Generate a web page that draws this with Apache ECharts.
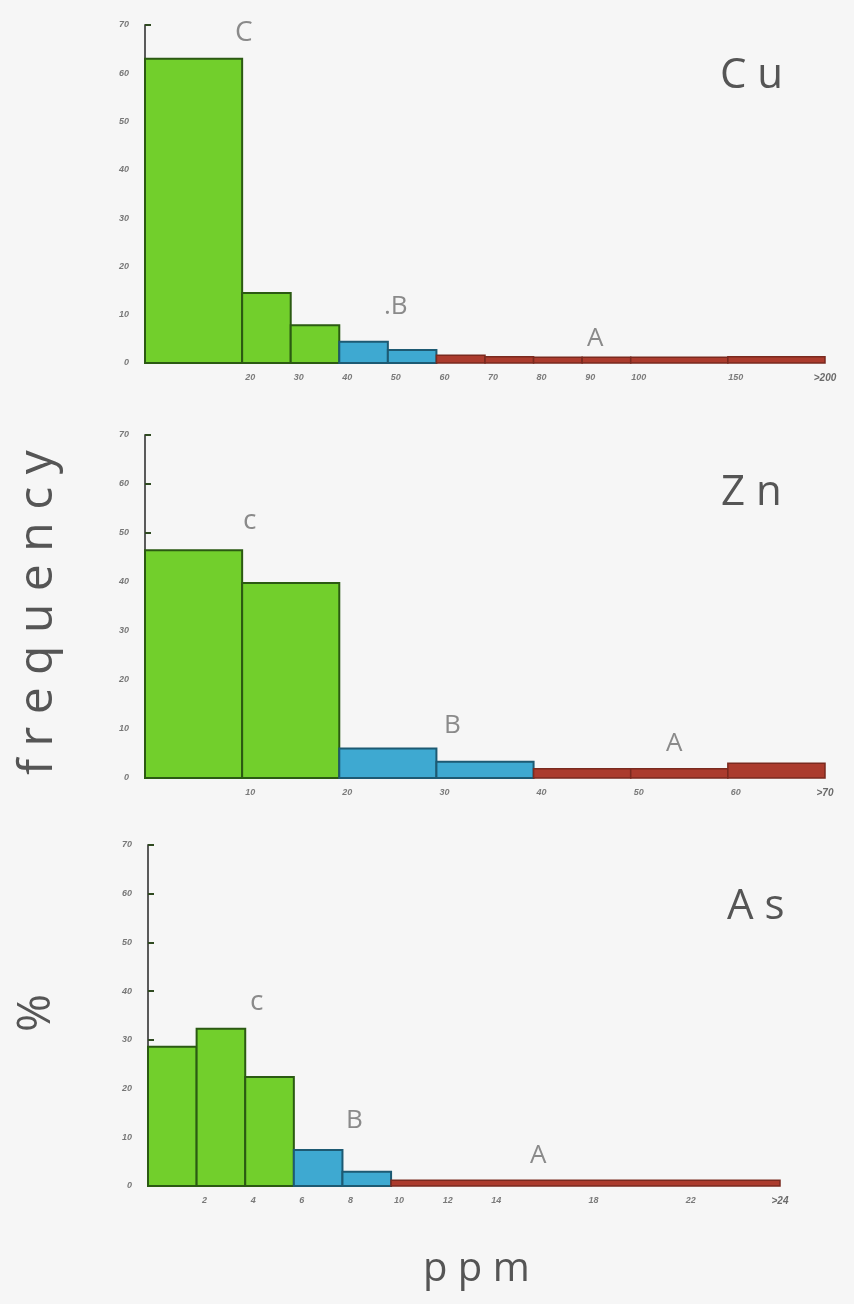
<!DOCTYPE html>
<html>
<head>
<meta charset="utf-8">
<script src="https://cdn.jsdelivr.net/npm/echarts@6/dist/echarts.min.js"></script>
<style>
html,body{margin:0;padding:0;background:#f6f6f6;}
#chart{width:854px;height:1304px;}
</style>
</head>
<body>
<div id="chart"></div>
<script>
// ---------- DATA ----------
// Cu (ppm class edges, frequency %)
const cuEdges  = [0, 20, 30, 40, 50, 60, 70, 80, 90, 100, 150, 200];
const cuValues = [63, 14.5, 7.8, 4.4, 2.7, 1.6, 1.3, 1.2, 1.2, 1.2, 1.3];
const cuGroups = ['C','C','C','B','B','A','A','A','A','A','A'];
const cuTicks  = [20, 30, 40, 50, 60, 70, 80, 90, 100, 150, 200];
const cuTickLabels = ['20','30','40','50','60','70','80','90','100','150','>200'];

// Zn
const znEdges  = [0, 10, 20, 30, 40, 50, 60, 70];
const znValues = [46.5, 39.8, 6.0, 3.3, 1.9, 1.9, 3.0];
const znGroups = ['C','C','B','B','A','A','A'];
const znTicks  = [10, 20, 30, 40, 50, 60, 70];
const znTickLabels = ['10','20','30','40','50','60','>70'];

// As
const asEdges  = [0, 2, 4, 6, 8, 10, 26];
const asValues = [28.6, 32.3, 22.4, 7.4, 2.9, 1.2];
const asGroups = ['C','C','C','B','B','A'];
const asTicks  = [2, 4, 6, 8, 10, 12, 14, 18, 22, 26];
const asTickLabels = ['2','4','6','8','10','12','14','18','22','>24'];

const yTicks = [0, 10, 20, 30, 40, 50, 60, 70];

// ---------- AXIS TRANSFORMS (ppm -> class slots) ----------
function cuScale(p){ return p <= 100 ? p / 10 : 10 + (p - 100) / 25; }
function znScale(p){ return p / 10; }
function asScale(p){ return p / 2; }

const fills   = {C:'#72cf2c', B:'#3ea9d1', A:'#ab3b2d'};
const strokes = {C:'#2b5a12', B:'#1d5a73', A:'#7a2a1f'};

function buildData(edges, values, groups, scale){
  return values.map((v,i)=>[scale(edges[i]), scale(edges[i+1]), v, groups[i]]);
}

function renderBar(params, api, groups){
  const x0 = api.value(0), x1 = api.value(1), v = api.value(2);
  const grp = groups[params.dataIndex];
  const p0 = api.coord([x0, 0]);
  const p1 = api.coord([x1, v]);
  return {
    type:'rect',
    shape:{x:p0[0], y:p1[1], width:p1[0]-p0[0], height:p0[1]-p1[1]},
    style:{fill:fills[grp], stroke:strokes[grp], lineWidth: grp === 'A' ? 1.5 : 2}
  };
}

function makeSeries(idx, edges, values, groups, scale){
  return {
    type:'custom',
    xAxisIndex:idx, yAxisIndex:idx,
    renderItem:function(params, api){ return renderBar(params, api, groups); },
    encode:{x:[0,1], y:2},
    data:buildData(edges, values, groups, scale)
  };
}

function xAxisFor(idx, ticks, labels, scale, maxSlot){
  const map = {};
  ticks.forEach((t,i)=>{ map[scale(t).toFixed(3)] = labels[i]; });
  return {
    type:'value', gridIndex:idx, min:0, max:maxSlot, interval:1,
    axisLine:{show:false}, axisTick:{show:false}, splitLine:{show:false},
    axisLabel:{
      show:true, margin:10,
      formatter:function(val){
        const l = map[Number(val).toFixed(3)];
        if(l === undefined) return '';
        return l.charAt(0) === '>' ? '{e|' + l + '}' : '{n|' + l + '}';
      },
      rich:{
        n:{fontSize:9, fontStyle:'italic', fontWeight:'bold', color:'#7a7a7a', padding:[0,0,0,16]},
        e:{fontSize:10, fontStyle:'italic', fontWeight:'bold', color:'#6a6a6a'}
      }
    }
  };
}

function yAxisFor(idx){
  return {
    type:'value', gridIndex:idx, min:0, max:70, interval:10,
    axisLine:{show:true, lineStyle:{color:'#5a5a5a', width:2}},
    axisTick:{show:true, inside:true, length:6, lineStyle:{color:'#2f4a20', width:2}},
    splitLine:{show:false},
    axisLabel:{
      margin:16, fontSize:9, fontStyle:'italic', fontWeight:'bold', color:'#777',
      formatter:function(v){ return yTicks.indexOf(v) >= 0 ? String(v) : ''; }
    }
  };
}

const chart = echarts.init(document.getElementById('chart'), null, {renderer:'canvas'});

const FONT = 'Open Sans, DejaVu Sans, sans-serif';
const txt = (x, y, s, size, color) => ({
  type:'text', left:x, top:y,
  style:{text:s, fontSize:size, fill:color, fontFamily:FONT}
});

const option = {
  backgroundColor:'#f6f6f6',
  animation:false,
  grid:[
    {left:145, right:29, top:25, height:338},
    {left:145, right:29, top:435, height:343},
    {left:148, right:74, top:845, height:341}
  ],
  xAxis:[
    xAxisFor(0, cuTicks, cuTickLabels, cuScale, 14),
    xAxisFor(1, znTicks, znTickLabels, znScale, 7),
    xAxisFor(2, asTicks, asTickLabels, asScale, 13)
  ],
  yAxis:[yAxisFor(0), yAxisFor(1), yAxisFor(2)],
  series:[
    makeSeries(0, cuEdges, cuValues, cuGroups, cuScale),
    makeSeries(1, znEdges, znValues, znGroups, znScale),
    makeSeries(2, asEdges, asValues, asGroups, asScale)
  ],
  graphic:[
    txt(720, 55, 'C u', 42, '#555'),
    txt(721, 472, 'Z n', 42, '#555'),
    txt(727, 886, 'A s', 42, '#555'),
    // group labels
    txt(235, 19, 'C', 28, '#8a8a8a'),
    txt(384, 294, '.B', 26, '#8a8a8a'),
    txt(587, 326, 'A', 26, '#8a8a8a'),
    txt(243, 507, 'c', 28, '#8a8a8a'),
    txt(444, 713, 'B', 26, '#8a8a8a'),
    txt(666, 731, 'A', 26, '#8a8a8a'),
    txt(250, 988, 'c', 28, '#8a8a8a'),
    txt(346, 1108, 'B', 26, '#8a8a8a'),
    txt(530, 1143, 'A', 26, '#8a8a8a'),
    // axis titles
    {type:'text', x:14, y:775, rotation:Math.PI/2,
     style:{text:'f r e q u e n c y', fontSize:48, fill:'#555', fontFamily:FONT, textVerticalAlign:'top'}},
    {type:'text', x:14, y:1032, rotation:Math.PI/2,
     style:{text:'%', fontSize:46, fill:'#555', fontFamily:FONT, textVerticalAlign:'top'}},
    txt(423, 1250, 'p p m', 40, '#555')
  ]
};
chart.setOption(option);
</script>
</body>
</html>
